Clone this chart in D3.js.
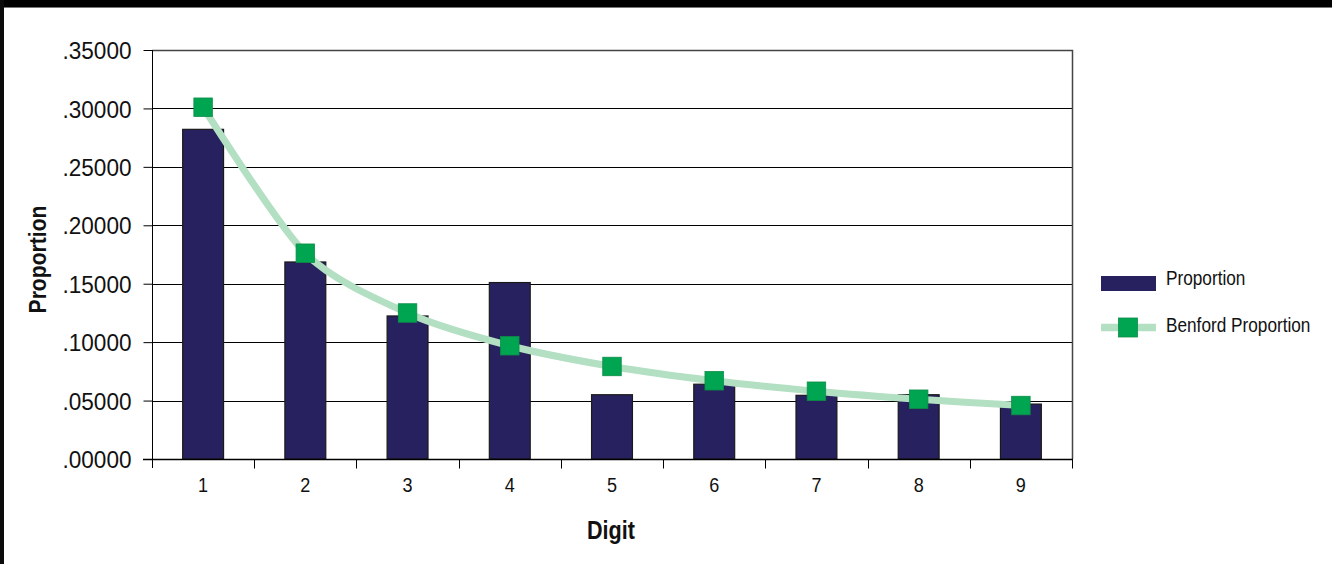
<!DOCTYPE html>
<html>
<head>
<meta charset="utf-8">
<script src="https://cdn.jsdelivr.net/npm/d3@7"></script>
<style>
  html, body { margin: 0; padding: 0; background: #fff; }
  svg { display: block; }
  text { font-family: "Liberation Sans", Arial, sans-serif; fill: #111; }
</style>
</head>
<body>
<script>
// First-digit frequencies compared with Benford's law
const digits = ["1", "2", "3", "4", "5", "6", "7", "8", "9"];
const observed = [0.2821, 0.1686, 0.1224, 0.1510, 0.0550, 0.0640, 0.0545, 0.0550, 0.0470];
const benford = [0.30103, 0.17609, 0.12494, 0.09691, 0.07918, 0.06695, 0.05799, 0.05115, 0.04576];
const yTicks = [0, 0.05, 0.10, 0.15, 0.20, 0.25, 0.30, 0.35];

const W = 1332, H = 564;
const plot = { left: 152, right: 1072, top: 50, bottom: 459 };

const svg = d3.select("body").append("svg")
  .attr("width", W).attr("height", H);

// condensed lettering: draw text at (x, y) squeezed horizontally by sx
function squeezed(parent, x, y, sx, str) {
  return parent.append("text")
    .attr("transform", `translate(${x},${y}) scale(${sx},1)`)
    .text(str);
}

// frame: black band across the top and a heavy rule down the left
svg.append("rect").attr("x", 0).attr("y", 0).attr("width", W).attr("height", 7).attr("fill", "#000");
svg.append("rect").attr("x", 0).attr("y", 7).attr("width", W).attr("height", 1).attr("fill", "#777");
svg.append("rect").attr("x", 0).attr("y", 0).attr("width", 4).attr("height", H).attr("fill", "#0b0b0b");

const x = d3.scaleBand().domain(digits).range([plot.left, plot.right]).paddingInner(0).paddingOuter(0);
const y = d3.scaleLinear().domain([0, 0.35]).range([plot.bottom, plot.top]);

const fmt = v => d3.format(".5f")(v).replace(/^0/, "");

// horizontal gridlines
svg.append("g").selectAll("line").data(yTicks.filter(v => v > 0 && v < 0.35)).join("line")
  .attr("x1", plot.left).attr("x2", plot.right)
  .attr("y1", d => Math.round(y(d)) + 0.5).attr("y2", d => Math.round(y(d)) + 0.5)
  .attr("stroke", "#000").attr("stroke-width", 1);

// plot border (top and right)
svg.append("path")
  .attr("d", `M${plot.left},${plot.top + 0.5}H${plot.right + 0.5}V${plot.bottom}`)
  .attr("fill", "none").attr("stroke", "#444").attr("stroke-width", 1.5);

// y axis
const ySx = 0.94;
const yAxis = svg.append("g").attr("transform", `translate(${plot.left + 0.5},0)`)
  .call(d3.axisLeft(y).tickValues(yTicks).tickFormat(fmt).tickSize(9).tickPadding(12));
yAxis.select(".domain").attr("stroke", "#000").attr("d", `M0,${plot.top}V${plot.bottom + 9}`);
yAxis.selectAll(".tick line").attr("stroke", "#000");
yAxis.selectAll(".tick text")
  .attr("font-size", 24).attr("fill", "#111")
  .attr("x", -21 / ySx).attr("dy", "0.36em")
  .attr("transform", `scale(${ySx},1)`);

// bars
svg.append("g").selectAll("rect").data(observed).join("rect")
  .attr("x", (d, i) => x(digits[i]) + x.bandwidth() * 0.3)
  .attr("width", x.bandwidth() * 0.4)
  .attr("y", d => y(d))
  .attr("height", d => y(0) - y(d))
  .attr("fill", "#27225f")
  .attr("stroke", "#1a1a1a").attr("stroke-width", 1.2);

// x axis with ticks on category boundaries
const xAxisG = svg.append("g").attr("transform", `translate(0,${plot.bottom + 0.5})`);
xAxisG.append("line").attr("x1", plot.left - 9).attr("x2", plot.right + 1)
  .attr("stroke", "#000").attr("stroke-width", 1.5);
const boundaries = digits.map(d => x(d)).concat([plot.right]);
xAxisG.selectAll("line.tk").data(boundaries.slice(1)).join("line").attr("class", "tk")
  .attr("x1", d => Math.round(d) + 0.5).attr("x2", d => Math.round(d) + 0.5)
  .attr("y1", 0).attr("y2", 9).attr("stroke", "#000");
digits.forEach(d => {
  squeezed(xAxisG, x(d) + x.bandwidth() / 2, 32, 0.86, d)
    .attr("text-anchor", "middle").attr("font-size", 21);
});

// Benford curve
const line = d3.line()
  .x((d, i) => x(digits[i]) + x.bandwidth() / 2)
  .y(d => y(d))
  .curve(d3.curveCardinal.tension(0.2));
svg.append("path").datum(benford).attr("d", line)
  .attr("fill", "none").attr("stroke", "#b3dfc2").attr("stroke-width", 7);

const m = 18.5;
svg.append("g").selectAll("rect").data(benford).join("rect")
  .attr("x", (d, i) => x(digits[i]) + x.bandwidth() / 2 - m / 2)
  .attr("y", d => y(d) - m / 2)
  .attr("width", m).attr("height", m)
  .attr("fill", "#00a551").attr("stroke", "#0f8c48").attr("stroke-width", 0.8);

// axis titles
svg.append("text")
  .attr("transform", `translate(46,${(plot.top + plot.bottom) / 2 + 5}) rotate(-90) scale(0.88,1)`)
  .attr("text-anchor", "middle").attr("font-size", 24).attr("font-weight", "bold")
  .text("Proportion");
squeezed(svg, 611, 539, 0.83, "Digit")
  .attr("text-anchor", "middle").attr("font-size", 26).attr("font-weight", "bold");

// legend
const lg = svg.append("g");
lg.append("rect").attr("x", 1101).attr("y", 276).attr("width", 55).attr("height", 15)
  .attr("fill", "#27225f");
squeezed(lg, 1166, 284.5, 0.82, "Proportion").attr("font-size", 21);
lg.append("line").attr("x1", 1101).attr("x2", 1156).attr("y1", 327.5).attr("y2", 327.5)
  .attr("stroke", "#b3dfc2").attr("stroke-width", 7.5);
lg.append("rect").attr("x", 1118.5).attr("y", 318).attr("width", 19).attr("height", 19)
  .attr("fill", "#00a551").attr("stroke", "#0f8c48").attr("stroke-width", 0.8);
squeezed(lg, 1166, 332, 0.82, "Benford Proportion").attr("font-size", 21);
</script>
</body>
</html>
